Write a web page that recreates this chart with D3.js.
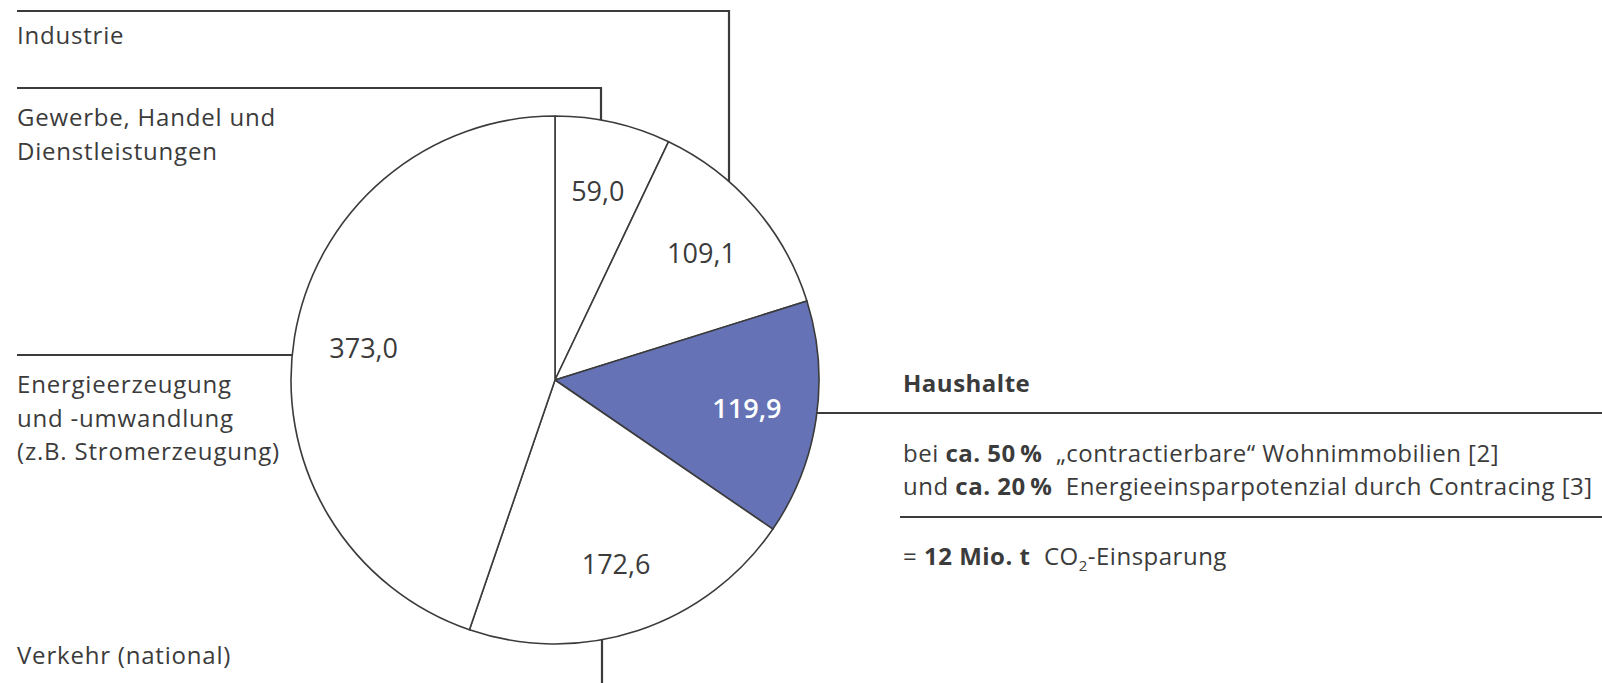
<!DOCTYPE html>
<html>
<head>
<meta charset="utf-8">
<script src="https://cdn.jsdelivr.net/npm/d3@7"></script>
<style>
  html, body { margin: 0; padding: 0; background: #fff; }
  svg { display: block; font-family: "Open Sans", sans-serif; }
  text { white-space: pre; }
</style>
</head>
<body>
<div id="chart"></div>
<script>
// ── Data: CO2 emissions by sector (Mio. t), clockwise from 12 o'clock ─────────
const sectors = [
  'Gewerbe, Handel und Dienstleistungen',
  'Industrie',
  'Haushalte',
  'Verkehr (national)',
  'Energieerzeugung und -umwandlung (z.B. Stromerzeugung)',
];
const emissions = [59.0, 109.1, 119.9, 172.6, 373.0];
const highlighted = 'Haushalte';

// label lines shown next to each callout
const sectorLabelLines = [
  ['Gewerbe, Handel und', 'Dienstleistungen'],
  ['Industrie'],
  ['Haushalte'],
  ['Verkehr (national)'],
  ['Energieerzeugung', 'und -umwandlung', '(z.B. Stromerzeugung)'],
];

const W = 1602, H = 683;
const cx = 555, cy = 380, R = 264;
const ink = '#3b3b3b';
const blue = '#6573b6';
const fmt = (v) => d3.format('.1f')(v).replace('.', ',');

const svg = d3.select('#chart').append('svg')
  .attr('width', W).attr('height', H)
  .attr('viewBox', `0 0 ${W} ${H}`);

const slices = d3.pie().sort(null).value((d) => d.value)(
  sectors.map((name, i) => ({ name, value: emissions[i], lines: sectorLabelLines[i] }))
);

const arc = d3.arc().innerRadius(0).outerRadius(R);
const labelArc = d3.arc().innerRadius(194).outerRadius(194);

const pie = svg.append('g').attr('transform', `translate(${cx},${cy})`);

pie.selectAll('path')
  .data(slices)
  .join('path')
  .attr('d', arc)
  .attr('fill', (d) => (d.data.name === highlighted ? blue : '#fff'))
  .attr('stroke', ink)
  .attr('stroke-width', 1.6)
  .attr('stroke-linejoin', 'round');

pie.selectAll('text.val')
  .data(slices)
  .join('text')
  .attr('class', 'val')
  .attr('x', (d) => labelArc.centroid(d)[0])
  .attr('y', (d) => labelArc.centroid(d)[1])
  .attr('dy', '0.36em')
  .attr('text-anchor', 'middle')
  .attr('font-size', 27)
  .attr('font-weight', (d) => (d.data.name === highlighted ? 600 : 400))
  .attr('fill', (d) => (d.data.name === highlighted ? '#fff' : ink))
  .text((d) => fmt(d.value));

// ── Callouts ──────────────────────────────────────────────────────────────────
// point on the circle for a given x (top/bottom) or y (left/right)
const onCircleY = (x, sign) => cy + sign * Math.sqrt(R * R - (x - cx) ** 2);
const onCircleX = (y, sign) => cx + sign * Math.sqrt(R * R - (y - cy) ** 2);

const lines = svg.append('g')
  .attr('fill', 'none')
  .attr('stroke', ink)
  .attr('stroke-width', 2.2);

const line = d3.line();
const callouts = [
  [[17, 88], [601, 88], [601, onCircleY(601, -1)]],      // Gewerbe
  [[17, 11], [729, 11], [729, onCircleY(729, -1)]],      // Industrie
  [[onCircleX(413, 1), 413], [W, 413]],                  // Haushalte
  [[602, onCircleY(602, 1)], [602, H + 5]],              // Verkehr
  [[17, 355], [onCircleX(355, -1), 355]],                // Energie
];
lines.selectAll('path')
  .data(callouts)
  .join('path')
  .attr('d', (d) => line(d));

// left-hand sector labels
const labelPos = [
  { x: 17, y: 126 },
  { x: 17, y: 44 },
  null,
  { x: 17, y: 664 },
  { x: 17, y: 393 },
];
const leftLabels = svg.append('g')
  .attr('font-size', 24)
  .attr('letter-spacing', 0.8)
  .attr('fill', ink);

slices.forEach((d, i) => {
  if (!labelPos[i]) return;
  const t = leftLabels.append('text')
    .attr('x', labelPos[i].x)
    .attr('y', labelPos[i].y);
  d.data.lines.forEach((ln, j) => {
    t.append('tspan')
      .attr('x', labelPos[i].x)
      .attr('dy', j === 0 ? 0 : 33.5)
      .text(ln);
  });
});

// ── Haushalte detail block ────────────────────────────────────────────────────
const tx = 903;
const info = svg.append('g').attr('fill', ink).attr('font-size', 24).attr('letter-spacing', 0.5);

info.append('text')
  .attr('x', tx).attr('y', 392)
  .attr('font-weight', 700)
  .text(highlighted);

const detailRows = [
  [['bei ', 400], ['ca. 50\u2009%', 700], ['  \u201Econtractierbare\u201C Wohnimmobilien [2]', 400]],
  [['und ', 400], ['ca. 20\u2009%', 700], ['  Energieeinsparpotenzial durch Contracing [3]', 400]],
];
detailRows.forEach((row, i) => {
  const t = info.append('text').attr('x', tx).attr('y', 462 + i * 33);
  row.forEach(([s, w]) => t.append('tspan').attr('font-weight', w).text(s));
});

svg.append('line')
  .attr('x1', 900).attr('x2', W)
  .attr('y1', 517).attr('y2', 517)
  .attr('stroke', ink).attr('stroke-width', 2.2);

const res = info.append('text').attr('x', tx).attr('y', 565);
res.append('tspan').text('= ');
res.append('tspan').attr('font-weight', 700).text('12 Mio. t');
res.append('tspan').text('  CO');
res.append('tspan').attr('font-size', 15).attr('dy', 6).text('2');
res.append('tspan').attr('dy', -6).text('-Einsparung');
</script>
</body>
</html>
